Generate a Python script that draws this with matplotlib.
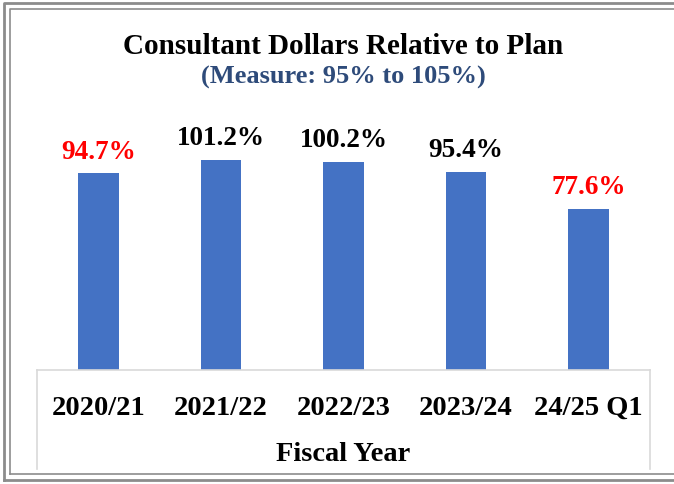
import matplotlib
matplotlib.use("Agg")
import matplotlib.pyplot as plt
from matplotlib.lines import Line2D

categories = ["2020/21", "2021/22", "2022/23", "2023/24", "24/25 Q1"]
values = [94.7, 101.2, 100.2, 95.4, 77.6]
labels = ["94.7%", "101.2%", "100.2%", "95.4%", "77.6%"]
label_colors = ["#FF0000", "#000000", "#000000", "#000000", "#FF0000"]

W, H = 674, 485
fig = plt.figure(figsize=(W / 100, H / 100), dpi=100)
fam = ["Liberation Serif", "DejaVu Serif"]

def fx(px):
    return px / W

def fy(py):
    return 1 - py / H

ax = fig.add_axes([fx(37), fy(371), fx(650) - fx(37), fy(122) - fy(371)])
x = range(len(categories))
ax.bar(x, values, width=0.33, color="#4472C4")
ax.set_xlim(-0.5, len(categories) - 0.5)
ax.set_ylim(0, 120)
for s in ax.spines.values():
    s.set_visible(False)
ax.set_yticks([])
ax.set_xticks([])
for i, (v, lab, c) in enumerate(zip(values, labels, label_colors)):
    ax.annotate(lab, (i, v), xytext=(0, 7), textcoords="offset points",
                ha="center", va="bottom", fontsize=19.5, fontweight="bold",
                color=c, family=fam)
    ax.annotate(categories[i], (i, 0), xytext=(0, -27), textcoords="offset points",
                ha="center", va="center", fontsize=20.5, fontweight="bold",
                color="black", family=fam)

# category axis box
gc = "#D9D9D9"
fig.add_artist(Line2D([fx(37), fx(650)], [fy(371), fy(371)], color=gc, lw=1.2))
fig.add_artist(Line2D([fx(37), fx(37)], [fy(371), fy(470)], color=gc, lw=1.2))
fig.add_artist(Line2D([fx(650), fx(650)], [fy(371), fy(470)], color=gc, lw=1.2))

fig.text(fx(343), fy(455), "Fiscal Year", ha="center", va="center",
         fontsize=20.5, fontweight="bold", family=fam)
fig.text(fx(343), fy(46), "Consultant Dollars Relative to Plan", ha="center",
         va="center", fontsize=21, fontweight="bold", family=fam)
fig.text(fx(343), fy(77), "(Measure: 95% to 105%)", ha="center", va="center",
         fontsize=19, fontweight="bold", color="#2E4B7A", family=fam)

# double frame
bc = "#8C8C8C"
for off, lw in [(4, 2.0), (10, 1.2)]:
    fig.add_artist(Line2D([fx(off), fx(off), fx(W + 5)],
                          [fy(H - off), fy(off), fy(off)], color=bc, lw=lw))
    fig.add_artist(Line2D([fx(off), fx(W + 5)], [fy(H - off), fy(H - off)],
                          color=bc, lw=lw))

fig.savefig("out.png", dpi=100)
